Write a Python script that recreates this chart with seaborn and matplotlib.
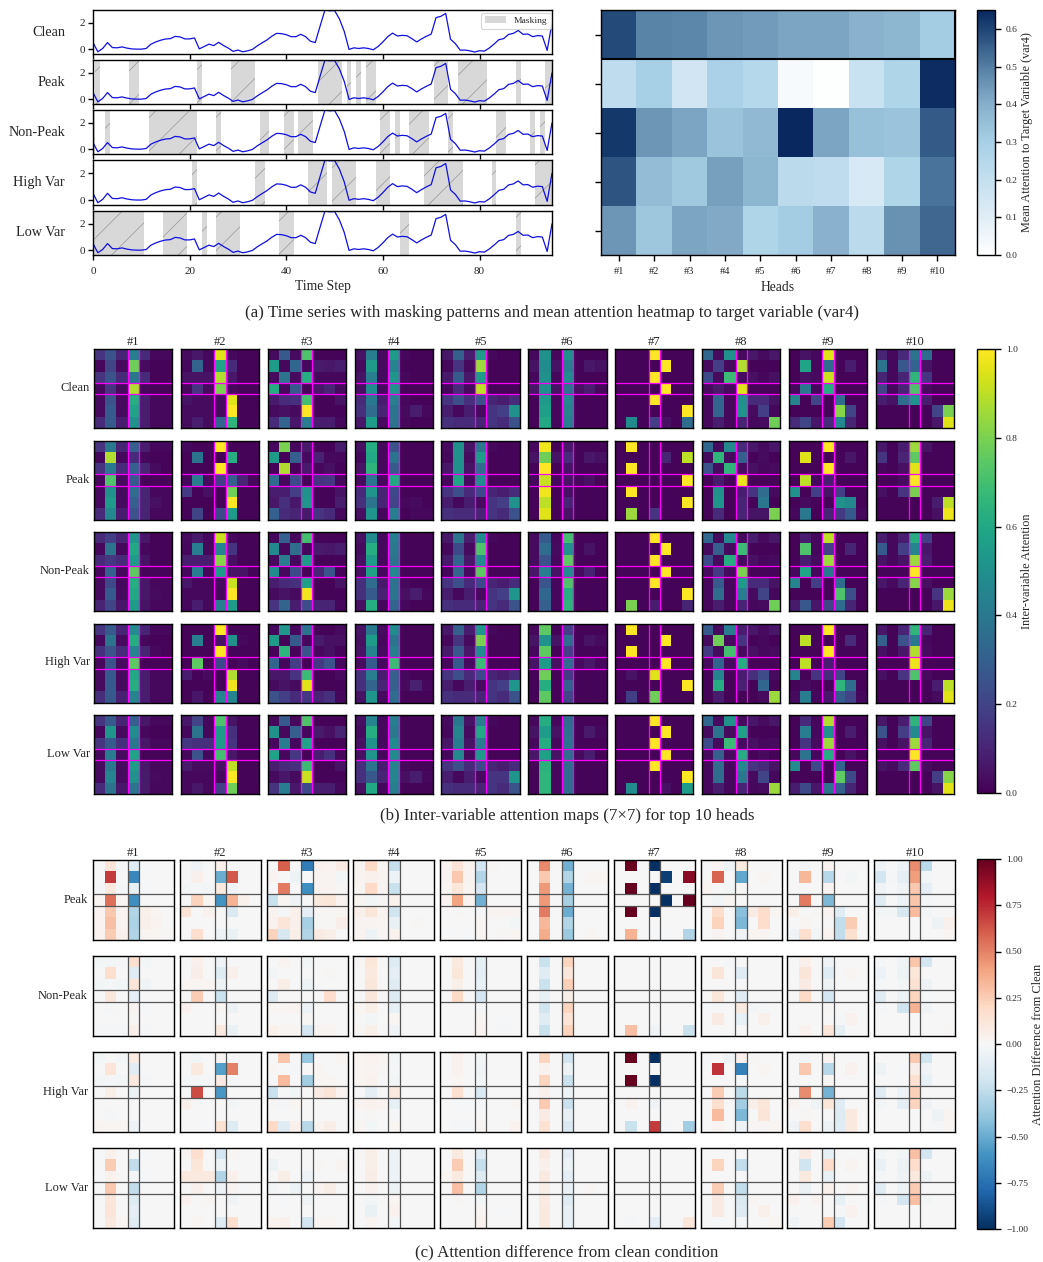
import numpy as np
import pandas as pd
import matplotlib
matplotlib.use("Agg")
import matplotlib.pyplot as plt
from matplotlib.colors import LinearSegmentedColormap, Normalize
from matplotlib.cm import ScalarMappable
from matplotlib.patches import Patch
import seaborn as sns

sns.set_theme(style="ticks", context="paper")
plt.rcParams["font.family"] = ["Liberation Serif", "DejaVu Serif"]
plt.rcParams["hatch.linewidth"] = 0.6
plt.rcParams["axes.unicode_minus"] = True

CONDITIONS = ["Clean", "Peak", "Non-Peak", "High Var", "Low Var"]
HEADS = [f"#{i}" for i in range(1, 11)]

SERIES = [0.5,-0.2,0.05,0.5,0.12,0.1,0.17,0.08,0.02,0.0,0.0,0.05,0.38,0.55,0.68,0.77,0.8,0.97,0.93,0.78,0.78,0.85,
          0.02,0.2,0.38,0.27,0.52,0.28,0.08,-0.17,-0.07,-0.2,-0.13,-0.02,0.25,0.48,0.7,0.98,1.2,1.18,1.1,0.95,0.95,
          1.13,0.95,0.6,0.5,1.75,2.97,2.92,2.94,2.3,1.35,-0.02,0.1,0.05,0.1,0.05,-0.05,0.2,0.55,0.95,1.22,1.0,1.05,
          1.02,0.8,0.55,0.78,0.98,1.15,2.4,2.5,2.72,0.75,0.42,-0.08,-0.07,-0.13,-0.22,-0.12,-0.15,0.08,0.38,0.72,0.8,
          1.12,1.2,1.42,1.13,1.15,0.95,1.03,1.0,-0.1,2.0]

MASK_CLEAN = []
MASK_PEAK = [(1,1),(8,9),(22,22),(29,33),(47,51),(53,53),(55,55),(57,58),(71,73),(76,81),(88,88),(94,95)]
MASK_NONPEAK = [(0,0),(3,3),(12,21),(26,26),(35,36),(40,41),(43,45),(60,61),(63,63),(66,69),(74,74),(84,85),(91,91),(93,93)]
MASK_HIGH = [(21,21),(34,35),(45,48),(50,54),(59,61),(69,76),(83,83),(92,95)]
MASK_LOW = [(0,10),(15,19),(23,23),(26,30),(39,41),(64,65),(88,88)]

TARGET_CLEAN = [.59,.49,.48,.45,.44,.42,.42,.39,.38,.31]
TARGET_PEAK = [.22,.30,.15,.29,.25,.03,.01,.18,.27,.64]
TARGET_NONPEAK = [.62,.45,.42,.34,.37,.65,.42,.35,.34,.56]
TARGET_HIGH = [.57,.36,.32,.43,.38,.23,.22,.13,.27,.52]
TARGET_LOW = [.45,.33,.42,.41,.27,.31,.39,.23,.46,.54]

# Inter-variable attention, percent: one 7x7 map per head
B_CLEAN = [
 [[15,25,10,42,12,2,2],[2,20,3,78,3,1,1],[15,25,12,40,12,1,1],[2,15,3,88,2,1,1],[3,25,3,62,8,2,2],[3,28,3,58,8,2,2],[12,28,8,50,8,2,2]],
 [[3,6,2,95,2,1,1],[2,32,2,58,12,1,1],[5,5,5,88,6,1,1],[2,15,3,80,2,1,1],[5,3,3,3,95,1,1],[3,3,3,3,100,1,1],[3,8,3,32,65,1,1]],
 [[3,28,3,72,1,1,1],[55,2,33,2,7,6,8],[3,38,3,62,2,2,2],[62,2,28,1,6,10,3],[7,12,14,70,1,1,5],[3,4,3,100,1,1,1],[12,32,6,42,8,8,2]],
 [[5,42,3,55,2,1,1],[3,54,3,45,1,1,1],[5,42,3,52,2,1,1],[4,48,3,52,1,1,1],[12,40,8,42,2,1,1],[14,35,10,38,3,8,2],[6,55,3,38,2,1,1]],
 [[6,30,8,55,2,1,1],[2,15,3,85,1,1,1],[7,28,6,55,1,1,1],[2,12,3,90,1,1,1],[15,24,14,25,10,8,12],[8,2,8,3,15,18,50],[14,12,12,10,15,12,25]],
 [[2,50,2,50,1,1,1],[5,48,5,42,1,6,4],[2,50,2,48,1,1,1],[6,50,5,38,4,8,2],[1,54,2,47,1,1,1],[1,56,2,45,1,1,1],[1,60,2,42,1,1,1]],
 [[1,1,1,100,1,1,1],[1,1,1,1,100,1,1],[1,1,1,100,1,1,1],[1,1,1,1,100,1,1],[1,1,1,100,1,1,1],[1,1,1,1,1,1,100],[1,48,1,18,4,1,35]],
 [[33,3,50,3,6,3,6],[3,18,3,88,1,1,1],[22,3,68,3,4,2,4],[3,7,3,95,1,1,1],[2,32,2,50,12,12,5],[2,32,2,52,3,18,2],[2,8,2,10,2,3,78]],
 [[1,5,2,95,1,1,1],[1,58,2,35,1,8,1],[1,4,3,92,1,1,1],[2,40,2,62,1,1,1],[45,1,20,1,35,1,1],[1,1,1,1,82,20,1],[12,20,6,12,47,10,1]],
 [[10,2,12,38,35,1,1],[38,2,27,32,5,1,1],[10,2,10,65,15,1,1],[20,2,10,72,3,1,1],[8,5,35,52,8,1,1],[1,1,1,1,1,20,80],[1,1,1,1,1,6,95]],
]
B_PEAK = [
 [[15,40,10,30,8,2,2],[2,88,2,12,2,1,1],[15,40,12,30,10,3,1],[2,72,3,28,1,1,1],[3,50,3,35,10,2,2],[3,55,3,30,10,4,2],[12,47,8,25,10,2,2]],
 [[2,1,1,100,1,1,1],[1,38,1,1,62,1,1],[1,1,1,100,1,1,1],[2,42,3,18,30,10,2],[17,1,4,1,78,1,1],[1,1,1,1,100,1,1],[1,20,1,22,55,1,1]],
 [[2,80,2,7,1,1,8],[55,1,30,3,9,2,2],[1,88,1,7,2,4,1],[35,2,22,1,15,16,2],[8,8,18,50,1,1,5],[6,14,6,52,1,1,8],[30,12,10,7,15,12,2]],
 [[4,62,2,25,1,1,1],[2,60,2,38,1,1,1],[5,65,2,28,1,1,1],[3,38,2,60,1,1,1],[12,52,10,22,1,1,1],[14,38,10,20,2,3,1],[4,52,2,42,1,2,2]],
 [[3,50,5,40,2,1,1],[2,50,3,55,1,1,1],[6,50,5,35,1,1,1],[2,58,3,48,1,1,1],[15,24,12,22,10,8,12],[8,2,8,3,15,18,50],[14,12,12,10,15,12,25]],
 [[2,98,1,6,1,1,1],[5,78,5,12,1,6,4],[1,100,1,5,1,1,1],[2,92,2,5,2,4,1],[1,98,1,4,1,1,1],[1,90,1,10,1,1,1],[1,95,1,5,1,1,1]],
 [[1,100,1,1,1,1,1],[1,1,1,1,10,1,90],[1,100,1,1,1,1,1],[1,1,1,1,1,1,100],[1,100,1,1,1,1,1],[1,1,1,1,1,1,100],[1,85,1,15,1,1,1]],
 [[33,3,47,12,6,3,6],[3,65,3,30,1,3,1],[25,3,65,3,4,2,3],[1,7,1,97,1,1,1],[1,50,1,8,15,35,3],[1,52,1,10,1,40,1],[1,12,1,10,5,5,80]],
 [[1,1,1,100,1,1,1],[1,95,1,1,1,6,1],[1,1,1,100,1,1,1],[1,90,2,8,1,1,1],[50,1,18,5,18,1,1],[1,3,1,1,50,47,1],[2,40,1,10,17,28,2]],
 [[6,1,8,85,5,1,1],[15,1,10,75,1,1,1],[2,1,4,95,1,1,1],[1,1,3,100,1,1,1],[4,1,15,80,1,1,1],[1,1,1,1,1,8,90],[1,1,1,1,1,4,97]],
]
B_NONPEAK = [
 [[12,18,10,52,6,1,1],[2,38,2,60,2,1,1],[12,16,12,55,5,1,1],[2,30,2,75,1,1,1],[3,22,2,62,6,2,2],[3,28,3,60,6,3,2],[10,20,6,55,5,2,2]],
 [[3,7,2,92,2,1,1],[2,42,2,45,15,1,1],[8,8,8,82,4,1,1],[2,42,2,55,5,5,1],[6,2,2,3,92,1,1],[2,2,2,2,100,1,1],[2,8,2,42,55,1,1]],
 [[2,30,2,70,1,1,1],[47,2,35,2,7,6,8],[2,42,2,55,1,1,1],[48,2,22,1,10,25,1],[8,12,14,57,1,1,5],[3,5,3,98,1,1,1],[15,32,8,23,10,10,2]],
 [[4,48,2,42,1,1,1],[3,62,2,40,1,1,1],[4,55,2,38,1,1,1],[4,57,2,46,1,1,1],[13,35,7,38,2,1,1],[14,28,9,38,4,8,2],[4,62,2,32,2,1,1]],
 [[6,38,8,48,2,1,1],[2,22,3,72,1,1,1],[7,32,6,48,1,1,1],[2,32,3,75,1,1,1],[15,24,12,22,10,8,12],[8,2,8,3,15,18,52],[14,12,12,10,15,12,25]],
 [[3,28,2,70,1,1,1],[3,35,3,50,1,5,1],[3,25,2,75,1,1,1],[6,42,5,48,3,9,1],[1,26,2,72,1,1,1],[1,33,2,62,1,1,1],[1,30,2,65,1,1,1]],
 [[1,1,1,100,1,1,1],[1,1,1,1,100,1,1],[1,1,1,100,1,1,1],[1,1,1,1,100,1,1],[1,1,1,100,1,1,1],[1,1,1,1,1,1,100],[1,80,1,8,1,1,10]],
 [[33,3,47,3,8,3,6],[3,30,3,68,1,1,1],[22,3,62,3,4,2,3],[3,17,3,80,1,1,1],[2,28,2,55,12,12,5],[2,35,2,42,3,20,2],[2,8,2,10,2,3,78]],
 [[1,8,2,90,1,1,1],[1,72,2,18,1,10,1],[1,8,3,85,1,1,1],[2,58,2,40,1,1,1],[45,1,18,1,35,1,1],[1,1,1,1,72,24,1],[7,27,6,20,35,10,1]],
 [[8,2,8,62,18,1,1],[28,2,18,45,6,1,1],[5,2,5,85,8,1,1],[1,1,1,100,1,1,1],[6,3,10,82,4,1,1],[1,1,1,1,1,15,85],[1,1,1,1,1,6,97]],
]
B_HIGH = [
 [[15,28,10,48,10,2,2],[2,38,3,62,2,1,1],[14,25,12,45,10,2,1],[2,25,3,75,1,1,1],[3,28,3,60,8,2,2],[3,28,3,62,8,2,2],[13,28,9,45,8,2,2]],
 [[1,1,1,100,1,1,1],[1,42,1,5,50,2,1],[1,1,1,100,1,1,1],[1,75,1,22,1,3,1],[8,1,3,1,88,1,1],[1,1,1,1,98,1,1],[1,6,1,45,45,1,1]],
 [[2,52,2,38,1,1,3],[55,1,28,2,7,4,4],[1,65,1,25,2,4,1],[32,2,18,1,17,25,2],[6,6,15,68,1,1,3],[3,5,3,95,1,1,1],[25,18,12,16,10,14,2]],
 [[5,40,3,48,1,1,1],[4,55,2,38,1,1,1],[5,45,3,42,1,1,1],[3,28,2,68,1,1,1],[14,42,8,30,2,1,1],[14,32,10,30,3,9,2],[5,52,3,35,1,1,1]],
 [[6,30,8,52,2,1,1],[2,15,3,80,1,1,1],[7,27,6,48,1,1,1],[2,28,3,68,1,1,1],[15,24,12,22,10,8,12],[8,2,8,3,15,18,52],[14,12,12,10,15,12,25]],
 [[2,75,1,18,1,1,1],[5,50,5,35,1,5,3],[2,75,1,18,1,1,1],[5,55,4,35,3,6,2],[1,78,1,17,1,1,1],[1,62,1,30,1,1,1],[1,75,1,20,1,1,1]],
 [[1,100,1,1,1,1,1],[1,1,1,1,100,1,1],[1,100,1,1,1,1,1],[1,1,1,1,100,1,1],[1,5,1,95,1,1,1],[1,1,1,1,1,1,100],[1,18,1,78,1,1,1]],
 [[28,3,42,8,6,3,6],[3,78,3,15,1,2,1],[17,3,70,3,4,2,3],[3,32,3,62,1,1,1],[1,45,1,8,14,23,3],[1,62,1,9,1,33,1],[1,8,1,1,1,3,85]],
 [[1,1,1,100,1,1,1],[1,90,1,1,1,12,1],[1,1,1,100,1,1,1],[1,90,1,8,1,1,1],[45,1,15,12,20,1,1],[1,3,1,1,65,35,1],[3,42,2,6,28,20,2]],
 [[6,1,10,65,10,1,1],[30,1,25,40,2,1,1],[4,1,6,88,3,1,1],[1,1,1,97,1,1,1],[4,1,15,72,3,1,1],[1,1,1,1,1,8,90],[1,1,1,1,1,3,95]],
]
B_LOW = [
 [[15,28,10,30,6,2,2],[2,52,3,48,2,1,1],[15,28,14,40,6,2,2],[3,42,3,58,1,1,1],[3,40,3,55,6,2,2],[3,45,3,50,7,3,2],[12,38,6,38,7,2,2]],
 [[6,20,2,72,5,1,1],[2,38,2,55,14,1,1],[16,14,14,55,15,1,1],[2,25,2,70,6,1,1],[7,3,3,4,90,1,1],[2,2,2,2,100,1,1],[2,6,2,18,78,1,1]],
 [[2,28,2,72,1,1,1],[50,2,30,2,7,4,10],[2,42,2,58,1,1,1],[58,2,16,1,8,14,2],[8,12,14,68,1,1,5],[3,6,3,92,1,1,1],[15,42,6,22,8,8,2]],
 [[4,45,2,42,1,1,1],[3,62,2,40,1,1,1],[4,50,2,48,1,1,1],[4,52,2,48,1,1,1],[13,38,8,45,2,1,1],[14,27,10,45,4,8,2],[4,60,2,42,1,1,1]],
 [[3,40,5,42,2,1,1],[2,45,3,60,1,1,1],[6,42,5,42,1,1,1],[2,47,3,55,1,1,1],[15,24,12,22,10,8,12],[8,2,8,3,15,15,52],[14,12,12,10,15,12,25]],
 [[2,62,2,35,1,1,1],[5,55,5,37,1,7,2],[2,62,2,38,1,1,1],[6,57,5,35,3,8,1],[1,64,2,35,1,1,1],[1,65,2,35,1,1,1],[1,65,2,35,1,1,1]],
 [[1,1,1,100,1,1,1],[1,1,1,1,100,1,1],[1,1,1,100,1,1,1],[1,1,1,1,100,1,1],[1,1,1,100,1,1,1],[1,1,1,1,1,1,100],[1,48,1,1,4,1,55]],
 [[33,3,50,3,6,3,6],[3,38,3,57,1,1,1],[22,3,68,3,4,2,3],[3,30,3,62,1,3,1],[2,35,2,47,15,12,5],[2,35,2,40,3,20,2],[2,8,2,10,2,3,85]],
 [[1,12,2,88,1,1,1],[1,42,2,50,1,8,1],[1,15,3,85,1,1,1],[2,38,2,62,1,5,1],[48,1,22,1,32,1,1],[1,1,1,1,75,22,1],[8,22,6,38,30,10,1]],
 [[6,1,8,65,20,1,1],[25,1,18,48,5,1,1],[4,1,5,85,10,1,1],[1,1,1,100,1,1,1],[5,3,12,75,3,1,1],[1,1,1,1,1,18,82],[1,1,1,1,1,5,95]],
]

# Attention difference from clean, percent
Z = [0,0,0,0,0,0,0]
C_PEAK = [
 [[0,13,-2,-12,-1,0,0],[0,70,0,-65,0,0,0],[-2,10,-2,-9,-1,0,0],[2,55,2,-62,0,0,0],[3,27,3,-30,5,2,0],[3,30,3,-32,6,3,0],[4,25,5,-30,2,2,1]],
 [[0,-4,0,5,0,0,0],[0,5,0,-50,62,0,0],[-3,-2,-3,10,-4,0,0],[0,23,2,-60,35,5,0],[14,0,4,0,-15,0,0],Z,[0,17,0,-5,-7,0,0]],
 [[0,60,0,-70,4,3,8],[3,0,-5,-1,3,3,-3],[0,52,0,-62,3,3,1],[-22,2,-4,0,10,12,3],[3,-2,5,-10,1,1,2],[4,13,5,-33,1,1,7],[23,-17,6,-30,8,6,0]],
 [[3,20,2,-24,0,0,0],[3,5,3,-6,0,0,0],[2,20,3,-22,0,0,0],[2,-3,1,4,0,0,0],[5,12,3,-20,0,0,0],[3,3,2,-7,0,1,0],[3,-5,1,4,0,0,0]],
 [[3,14,3,-18,1,0,0],[3,27,3,-30,0,0,0],[2,12,2,-18,0,0,0],[3,40,3,-48,0,0,0],[0,1,0,-2,3,3,3],[0,0,0,2,0,0,-3],[-1,0,-1,2,0,1,2]],
 [[0,48,0,-48,0,0,0],[0,27,0,-30,0,2,2],[0,43,0,-47,0,0,0],[0,43,0,-33,0,0,0],[0,52,0,-50,0,0,0],[0,33,0,-30,0,0,0],[0,37,0,-37,0,2,0]],
 [[0,100,0,-100,0,0,0],[0,0,0,0,-95,0,90],[0,100,0,-100,0,0,0],[0,0,0,0,-100,0,100],[0,100,0,-100,0,0,0],Z,[0,35,0,-1,-1,0,-30]],
 [[-2,3,-5,10,0,0,0],[0,58,0,-52,0,2,0],[2,0,-3,1,0,0,0],[0,-3,2,0,0,0,0],[0,18,0,-42,8,18,2],[0,23,0,-45,0,18,0],[0,3,0,-4,2,2,0]],
 [[0,-3,0,3,0,0,0],[0,33,0,-28,0,-3,0],[0,0,0,3,0,0,0],[0,52,0,-45,0,0,0],[6,0,1,3,-12,0,0],[0,2,0,0,-25,25,0],[-4,17,-3,3,-25,16,0]],
 [[-4,-1,-6,47,-27,0,0],[-18,-2,-10,42,-3,0,0],[-4,-1,-4,27,-10,0,0],[-12,0,-6,28,-2,0,0],[-3,-3,-17,32,-3,0,0],[0,0,0,0,0,-5,5],[0,0,0,0,0,0,2]],
]
C_NONPEAK = [
 [[-3,-3,-2,17,-3,0,0],[0,17,0,-12,0,0,0],[-3,-2,-3,13,-4,0,0],[0,11,0,-10,0,0,0],[0,-2,0,3,-1,0,0],[0,0,0,1,0,0,0],[-2,-2,-2,5,-2,0,0]],
 [[0,5,0,-4,0,0,0],[0,7,0,-12,5,0,0],[2,2,2,-5,0,0,0],[0,25,0,-22,0,0,0],[4,0,0,2,-5,0,0],Z,[0,0,0,10,-7,0,0]],
 [[0,3,0,-3,0,0,0],[-3,0,0,0,0,1,0],[0,7,0,-5,0,0,0],[-13,0,0,0,0,18,0],[2,2,3,-6,0,0,0],[0,0,0,1,0,0,0],[5,2,2,-18,3,3,0]],
 [[1,12,0,-13,0,0,0],[0,10,0,-10,0,0,0],[0,11,0,-12,0,0,0],[0,11,0,-13,0,0,0],[2,6,0,-8,0,0,0],[0,-3,0,2,0,0,0],[1,6,0,-4,0,0,0]],
 [[0,10,0,-9,0,0,0],[0,12,0,-10,0,0,0],[0,6,0,-8,0,0,0],[0,20,0,-18,0,0,0],[0,0,0,-2,0,0,0],[0,0,0,2,0,-1,0],[0,0,0,3,0,-2,0]],
 [[0,-22,0,22,0,0,0],[0,-12,0,12,0,0,0],[0,-22,0,24,0,0,0],[0,-8,0,7,0,0,0],[0,-20,0,22,0,0,0],[0,-12,0,14,0,0,0],[0,-22,0,23,0,0,0]],
 [Z,Z,Z,Z,Z,Z,[0,30,0,-4,-1,0,-22]],
 [[0,0,-2,0,0,0,0],[0,13,0,-12,0,0,0],Z,[0,12,0,-12,0,0,0],[-1,-2,0,10,-3,-2,0],[0,8,0,-8,0,5,0],Z],
 [[0,5,0,-4,0,0,0],[0,13,0,-12,0,2,0],[0,8,0,-5,0,0,0],[0,20,0,-18,0,0,0],[0,0,0,1,0,0,0],[0,0,0,0,-2,4,0],[0,4,0,13,-9,0,0]],
 [[-2,0,-4,28,-18,0,0],[-6,0,-5,12,0,0,0],[-2,0,-3,15,-5,0,0],[-12,0,-5,22,-1,0,0],[-2,0,-20,35,-4,0,0],Z,[0,0,0,0,0,0,1]],
]
C_HIGH = [
 [[-3,0,-3,8,0,0,0],[0,13,0,-11,0,0,0],[-3,-2,-3,10,-2,0,0],[0,6,0,-5,0,0,0],Z,[0,-2,0,0,0,0,0],[3,2,2,-6,0,0,0]],
 [[0,-3,0,3,0,0,0],[0,10,0,-55,50,0,0],[-2,-2,-2,8,-2,0,0],[0,65,0,-58,0,0,0],[5,0,0,0,-3,0,0],Z,[0,0,-1,15,-14,0,0]],
 [[0,28,0,-38,0,0,2],[2,0,-2,0,2,0,0],[0,32,0,-35,2,2,0],[-22,0,-3,0,8,13,3],[1,-2,2,0,0,0,0],Z,[20,-12,5,-28,3,7,0]],
 [[2,4,2,-3,0,0,0],[2,3,1,-2,0,0,0],[2,4,0,-3,0,0,0],[0,-10,0,10,0,0,0],[3,4,3,-8,0,0,0],[0,1,0,-2,0,0,0],[2,-3,0,2,0,0,0]],
 [[0,4,0,-3,0,0,0],[0,4,0,-4,0,0,0],[0,2,0,-3,0,0,0],[0,16,0,-15,0,0,0],[0,-1,-1,-2,0,0,2],Z,[0,-2,-2,2,0,0,4]],
 [[0,22,0,-20,0,0,0],[0,4,0,-5,0,0,0],[0,22,0,-22,0,0,0],[0,5,-2,-5,0,0,0],[0,26,0,-22,0,0,0],[0,8,0,-8,0,0,0],[0,15,0,-15,0,0,0]],
 [[0,100,0,-100,0,0,0],Z,[0,100,0,-100,0,0,0],Z,[0,4,0,-4,0,0,0],Z,[0,-22,0,70,-2,0,-35]],
 [[-2,0,-4,5,1,0,0],[0,72,0,-68,0,2,0],[0,0,0,-1,0,0,0],[0,25,0,-27,0,0,0],[0,17,0,-35,6,12,0],[0,32,0,-45,0,13,0],[0,3,0,-6,1,1,2]],
 [[0,-3,0,3,0,0,0],[0,27,0,-28,0,4,0],[0,0,0,1,0,0,0],[0,47,0,-47,0,0,0],[3,0,-4,12,-12,0,0],[0,1,0,0,-13,10,0],[-4,17,0,-5,-12,10,0]],
 [[0,0,0,27,-20,0,0],[-5,0,-1,7,-4,0,0],[0,0,-1,16,-8,0,0],[-12,0,-6,24,0,0,0],[-3,0,-10,22,-4,0,0],[0,0,0,0,0,-5,3],[0,0,0,0,0,-2,2]],
]
C_LOW = [
 [[-1,5,0,-2,-1,0,0],[0,25,0,-25,0,0,0],[-1,4,0,-2,-1,0,0],[0,27,0,-25,0,0,0],[0,12,0,-14,0,0,0],[0,13,0,-10,0,0,0],[0,10,2,-12,0,0,0]],
 [[3,17,0,-18,2,0,0],[0,12,0,-5,0,0,0],[10,10,10,-30,5,0,0],[0,5,0,-6,3,-1,0],[4,0,2,0,-4,0,0],Z,[0,2,0,-12,17,0,0]],
 [Z,[-5,0,0,0,1,0,3],[0,7,0,-6,0,0,0],[-3,0,-5,0,3,7,0],[0,-1,0,-4,0,0,0],Z,[4,5,0,-18,2,2,0]],
 [[1,6,0,-6,0,0,0],[0,6,0,-6,0,0,0],[0,7,0,-6,0,0,0],[0,4,0,-5,0,0,0],[0,-3,0,2,0,0,0],[0,-7,0,4,0,0,0],[0,3,0,-3,0,0,0]],
 [[0,10,0,-13,0,0,0],[0,25,0,-24,0,0,0],[2,10,0,-13,0,0,0],[0,30,0,-30,0,0,0],[0,1,0,-3,0,0,0],[0,0,0,2,0,-1,0],[0,0,0,4,0,0,0]],
 [[0,10,0,-10,0,0,0],[0,5,0,-6,0,0,0],[0,10,0,-10,0,0,0],[0,7,0,-7,0,2,0],[0,9,0,-12,0,0,0],[0,10,0,-8,0,0,0],[0,10,0,-8,0,0,0]],
 [Z,Z,Z,Z,Z,Z,[0,-2,0,-10,0,0,12]],
 [Z,[0,22,0,-25,0,0,0],Z,[0,25,0,-25,0,0,0],[0,8,0,-15,2,0,0],[0,8,0,-13,0,5,0],[0,-1,0,-2,0,0,2]],
 [[0,8,0,-8,0,0,0],[0,-20,0,18,0,3,0],[0,10,0,-8,0,0,0],[0,-7,0,5,0,3,0],[4,0,3,0,-8,0,0],[0,0,0,0,-2,4,0],[-4,0,0,25,-18,0,0]],
 [[-3,0,-3,30,-18,0,0],[-7,0,-5,18,0,0,0],[-2,0,-4,10,-5,0,0],[-12,0,-6,25,0,0,0],[-2,0,-18,30,-3,0,0],Z,Z],
]

W, H = 1043, 1262
TICK_FS, LABEL_FS, CAP_FS, ROW_FS, SMALL_FS = 8, 9.5, 12.15, 10, 6.8
SPAN_FACE = (0.5, 0.5, 0.5, 0.3)
SPAN_EDGE = (0.45, 0.45, 0.45, 0.55)
fig = plt.figure(figsize=(W / 100, H / 100), dpi=100, facecolor="white")


def box(x0, y0, x1, y1):
    return fig.add_axes([x0 / W, 1 - y1 / H, (x1 - x0) / W, (y1 - y0) / H])


def frame(ax, lw=1.0):
    for s in ax.spines.values():
        s.set_visible(True)
        s.set_linewidth(lw)
        s.set_color("black")


def colorbar(ax, cmap, norm, ticks, fmt, label, pad):
    cb = fig.colorbar(ScalarMappable(norm=norm, cmap=cmap), cax=ax)
    cb.set_ticks(ticks)
    cb.ax.set_yticklabels([fmt(t).replace("-", "\u2212") for t in ticks], fontsize=SMALL_FS)
    cb.ax.tick_params(length=4, width=1, pad=4, color="black")
    cb.outline.set_linewidth(1)
    cb.outline.set_edgecolor("black")
    cb.set_label(label, fontsize=8.8, labelpad=pad)


# (a) time series panels
series_df = pd.DataFrame({"t": np.arange(len(SERIES)), "v": SERIES})
masks = [MASK_CLEAN, MASK_PEAK, MASK_NONPEAK, MASK_HIGH, MASK_LOW]
line_rows = [(10, 54), (60, 104), (110, 154), (160, 205), (211, 255)]
for i, (name, mask, (y0, y1)) in enumerate(zip(CONDITIONS, masks, line_rows)):
    ax = box(93, y0, 552, y1)
    for a, b in mask:
        ax.axvspan(a - 0.5, b + 0.5, facecolor=SPAN_FACE, edgecolor=SPAN_EDGE, hatch="/", lw=0)
    sns.lineplot(data=series_df, x="t", y="v", color="#1010e0", lw=0.9, ax=ax, errorbar=None)
    ax.set_xlim(0, 95)
    ax.set_ylim(-0.37, 2.98)
    ax.set_yticks([0, 2])
    ax.set_xticks([0, 20, 40, 60, 80])
    ax.set_xlabel("")
    ax.set_ylabel("")
    ax.tick_params(axis="both", labelsize=TICK_FS, length=3.5, width=1, pad=2.5, color="black", labelcolor="#262626")
    ax.tick_params(axis="x", pad=5)
    if i < 4:
        ax.tick_params(axis="x", labelbottom=False)
    else:
        ax.set_xlabel("Time Step", fontsize=LABEL_FS + 0.3, labelpad=3)
    frame(ax)
    fig.text(65 / W, 1 - (y0 + y1) / 2 / H, name, ha="right", va="center", fontsize=ROW_FS + 0.3, color="#262626")
    if i == 0:
        ax.legend(handles=[Patch(facecolor=SPAN_FACE, edgecolor=SPAN_EDGE, lw=0, hatch="/", label="Masking")],
                  loc="upper right", fontsize=SMALL_FS, frameon=True, handlelength=2.2, borderpad=0.4,
                  bbox_to_anchor=(0.997, 0.94), borderaxespad=0)

# (a) mean attention heatmap
target_cmap = LinearSegmentedColormap.from_list(
    "target", [(0, "#ffffff"), (0.154, "#e0edf6"), (0.308, "#c3dfef"), (0.462, "#a7d0e6"), (0.615, "#87afcb"),
               (0.769, "#547ea3"), (0.923, "#1f4575"), (1, "#08285f")])
target_norm = Normalize(0, 0.65)
ax = box(601, 10, 955, 255)
sns.heatmap(np.array([TARGET_CLEAN, TARGET_PEAK, TARGET_NONPEAK, TARGET_HIGH, TARGET_LOW]), ax=ax, cmap=target_cmap,
            norm=target_norm, cbar=False, xticklabels=HEADS, yticklabels=False)
ax.set_yticks(np.arange(5) + 0.5)
ax.set_yticklabels([])
ax.tick_params(axis="both", length=4, width=1, pad=5, color="black", labelcolor="#262626")
ax.tick_params(axis="x", labelsize=7.5, rotation=0)
ax.set_xlabel("Heads", fontsize=LABEL_FS + 0.3, labelpad=3.5)
frame(ax)
ax.add_patch(plt.Rectangle((0, 0), 10, 1, fill=False, ec="black", lw=1.5, clip_on=True, zorder=5))
colorbar(box(977, 10, 995, 255), target_cmap, target_norm, [0, .1, .2, .3, .4, .5, .6],
         lambda t: f"{t:.1f}", "Mean Attention to Target Variable (var4)", 2)

# (b) inter-variable attention grid
b_sets = [B_CLEAN, B_PEAK, B_NONPEAK, B_HIGH, B_LOW]
b_norm = Normalize(0, 1)
for r, (name, maps) in enumerate(zip(CONDITIONS, b_sets)):
    y0 = 349 + r * 91.5
    for c in range(10):
        x0 = 94 + c * 86.85
        ax = box(x0, y0, x0 + 78.3, y0 + 79)
        sns.heatmap(np.array(maps[c]) / 100, ax=ax, cmap="viridis", norm=b_norm, cbar=False,
                    xticklabels=False, yticklabels=False)
        for p in (3, 4):
            ax.axvline(p, color="magenta", lw=0.9)
            ax.axhline(p, color="magenta", lw=0.9)
        frame(ax)
        ax.tick_params(length=0)
        if r == 0:
            ax.set_title(HEADS[c], fontsize=LABEL_FS - 0.5, pad=3, color="#262626")
    fig.text(90 / W, 1 - (y0 + 39) / H, name, ha="right", va="center", fontsize=LABEL_FS - 0.5, color="#262626")
colorbar(box(977, 349, 995, 793), "viridis", b_norm, [0, .2, .4, .6, .8, 1],
         lambda t: f"{t:.1f}", "Inter-variable Attention", 2)

# (c) attention difference grid
c_sets = [C_PEAK, C_NONPEAK, C_HIGH, C_LOW]
c_norm = Normalize(-1, 1)
for r, (name, maps) in enumerate(zip(CONDITIONS[1:], c_sets)):
    y0 = 860 + r * 96
    for c in range(10):
        x0 = 93 + c * 86.8
        ax = box(x0, y0, x0 + 81, y0 + 80)
        sns.heatmap(np.array(maps[c]) / 100, ax=ax, cmap="RdBu_r", norm=c_norm, cbar=False,
                    xticklabels=False, yticklabels=False)
        for p in (3, 4):
            ax.axvline(p, color="#555555", lw=0.9)
            ax.axhline(p, color="#555555", lw=0.9)
        frame(ax)
        ax.tick_params(length=0)
        if r == 0:
            ax.set_title(HEADS[c], fontsize=LABEL_FS - 0.5, pad=3, color="#262626")
    fig.text(88 / W, 1 - (y0 + 40) / H, name, ha="right", va="center", fontsize=LABEL_FS - 0.5, color="#262626")
colorbar(box(977, 859, 995, 1229), "RdBu_r", c_norm, [-1, -.75, -.5, -.25, 0, .25, .5, .75, 1],
         lambda t: f"{t:.2f}", "Attention Difference from Clean", 3)

# captions
fig.text(552 / W, 1 - 312.5 / H, "(a) Time series with masking patterns and mean attention heatmap to target variable (var4)",
         ha="center", va="center", fontsize=CAP_FS, color="#262626")
fig.text(567 / W, 1 - 816.5 / H, "(b) Inter-variable attention maps (7\u00d77) for top 10 heads",
         ha="center", va="center", fontsize=CAP_FS, color="#262626")
fig.text(567 / W, 1 - 1252.5 / H, "(c) Attention difference from clean condition",
         ha="center", va="center", fontsize=CAP_FS, color="#262626")

fig.savefig("out.png", dpi=100, facecolor="white")
